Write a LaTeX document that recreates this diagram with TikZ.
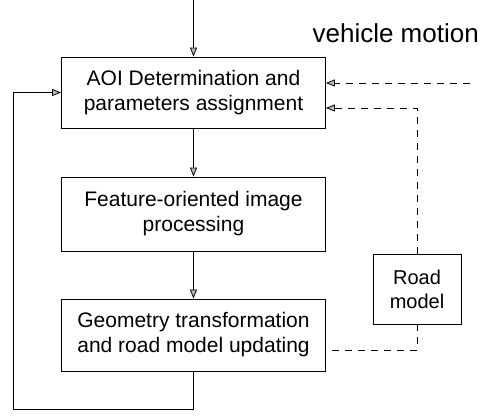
\documentclass[tikz,border=0pt]{standalone}
\usepackage{fontspec}
\setmainfont{Liberation Sans}
\usetikzlibrary{arrows.meta}
\begin{document}
\begin{tikzpicture}[x=1pt,y=-1pt,
  every node/.style={font=\fontsize{21}{25}\selectfont},
  procbox/.style={draw,line width=0.8pt,minimum width=264pt,minimum height=71pt,align=center,inner sep=0pt},
  roadbox/.style={draw,line width=0.8pt,minimum width=88pt,minimum height=70pt,align=center,inner sep=0pt,font=\fontsize{20}{24}\selectfont},
  flow/.style={line width=0.8pt,-{Triangle[length=9pt,width=7pt,fill=gray!55]}},
  plain/.style={line width=0.8pt},
  dflow/.style={line width=0.8pt,dash pattern=on 7pt off 6pt,-{Triangle[length=9pt,width=7pt,fill=gray!55]}},
  dplain/.style={line width=0.8pt,dash pattern=on 7pt off 6pt}]
\useasboundingbox (0,0) rectangle (480,419);
\node[procbox] (b1) at (193.5,92.5) {AOI Determination and\\parameters assignment};
\node[procbox,minimum height=74pt] (b2) at (193.5,214) {Feature-oriented image\\processing};
\node[procbox,minimum height=72pt] (b3) at (193.5,335) {Geometry transformation\\and road model updating};
\node[roadbox] (road) at (417,289) {Road\\model};
\node[anchor=base east,font=\fontsize{26}{30}\selectfont,inner sep=0pt] (vm) at (479,43) {vehicle motion};
\coordinate (top) at (193.5,0);
\coordinate (bl) at (193.5,409);
\coordinate (lb) at (13,409);
\coordinate (lt) at (13,92.5);
\coordinate (vmend) at (470,83);
\coordinate (y108) at (0,108);
\coordinate (y350) at (0,350);
\draw[flow] (top) -- (b1.north);
\draw[flow] (b1.south) -- (b2.north);
\draw[flow] (b2.south) -- (b3.north);
\draw[flow] (b3.south) -- (bl) -- (lb) -- (lt) -- (b1.west);
\draw[dflow] (vmend) -- (vmend -| b1.east);
\draw[dflow] (road.north) -- (road.north |- y108) -- (b1.east |- y108);
\draw[dplain] (road.south) -- (road.south |- y350) -- (b3.east |- y350);
\end{tikzpicture}
\end{document}
